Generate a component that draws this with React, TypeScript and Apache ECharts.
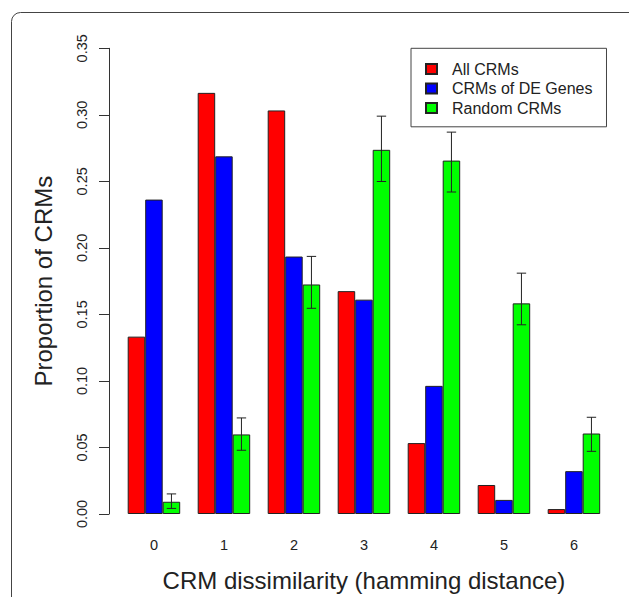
import React, { useEffect, useRef } from "react";
import * as echarts from "echarts";

const categories = ["0", "1", "2", "3", "4", "5", "6"];
const allCRMs = [0.1333, 0.3165, 0.3033, 0.1675, 0.0533, 0.0218, 0.0037];
const deGeneCRMs = [0.2363, 0.2688, 0.1935, 0.1611, 0.0963, 0.0106, 0.0322];
const randomCRMs = [0.0092, 0.0598, 0.1725, 0.2737, 0.2656, 0.1583, 0.0605];
const randomLow = [0.0042, 0.0479, 0.1546, 0.2499, 0.242, 0.1422, 0.0471];
const randomHigh = [0.0151, 0.0722, 0.1936, 0.299, 0.287, 0.181, 0.0727];
const seriesNames = ["All CRMs", "CRMs of DE Genes", "Random CRMs"];
const yTicks = { min: 0, max: 0.35, interval: 0.05 };

const FONT = "'Liberation Sans', Arial, Helvetica, sans-serif";

export default function App() {
  const ref = useRef<HTMLDivElement>(null);
  useEffect(() => {
    if (!ref.current) return;
    const chart = echarts.init(ref.current, undefined, { renderer: "svg" });
    const errData = categories.map((_, i) => [i, randomLow[i], randomHigh[i]]);
    const barStyle = (c: string) => ({ color: c, borderColor: "#222", borderWidth: 1 });
    chart.setOption({
      animation: false,
      backgroundColor: "#fff",
      textStyle: { fontFamily: FONT },
      grid: { left: 118.95, top: 48.3, width: 490, height: 470, containLabel: false },
      legend: {
        orient: "vertical",
        left: 411,
        top: 48.3,
        width: 192,
        padding: [11, 14, 9, 14],
        itemGap: 0,
        itemWidth: 11,
        itemHeight: 10,
        icon: "rect",
        borderColor: "#444",
        borderWidth: 1,
        borderRadius: 0,
        data: seriesNames,
        textStyle: {
          fontFamily: FONT,
          fontSize: 16,
          color: "#222",
          lineHeight: 19.5,
          padding: [0, 0, 0, 10],
        },
      },
      xAxis: {
        type: "category",
        data: categories,
        axisLine: { show: false },
        axisTick: { show: false },
        axisLabel: { margin: 23, fontSize: 14.5, color: "#222", fontFamily: FONT },
        name: "CRM dissimilarity (hamming distance)",
        nameLocation: "middle",
        nameGap: 54,
        nameTextStyle: { fontSize: 24, color: "#222", fontFamily: FONT },
      },
      yAxis: {
        type: "value",
        min: yTicks.min,
        max: yTicks.max,
        interval: yTicks.interval,
        offset: 9.95,
        splitLine: { show: false },
        axisLine: { show: true, lineStyle: { color: "#333", width: 1 } },
        axisTick: { show: true, length: 10, lineStyle: { color: "#333", width: 1 } },
        axisLabel: {
          rotate: 90,
          margin: 20,
          fontSize: 14.5,
          color: "#222",
          fontFamily: FONT,
          formatter: (v: number) => v.toFixed(2),
        },
        name: "Proportion of CRMs",
        nameLocation: "middle",
        nameRotate: 90,
        nameGap: 54,
        nameTextStyle: { fontSize: 24, color: "#222", fontFamily: FONT },
      },
      graphic: [
        {
          type: "rect",
          shape: { x: 11.5, y: 12.5, width: 700, height: 700, r: 9 },
          style: { fill: "none", stroke: "#444", lineWidth: 1 },
          silent: true,
          z: 100,
        },
      ],
      series: [
        { name: seriesNames[0], type: "bar", data: allCRMs, barWidth: 17.5, barGap: "0%", itemStyle: barStyle("#ff0000") },
        { name: seriesNames[1], type: "bar", data: deGeneCRMs, barWidth: 17.5, barGap: "0%", itemStyle: barStyle("#0000ff") },
        { name: seriesNames[2], type: "bar", data: randomCRMs, barWidth: 17.5, barGap: "0%", itemStyle: barStyle("#00ff00") },
        {
          type: "custom",
          name: "err",
          data: errData,
          z: 10,
          renderItem: (params: any, api: any) => {
            const idx = api.value(0);
            const lo = api.coord([idx, api.value(1)]);
            const hi = api.coord([idx, api.value(2)]);
            const band = api.size([1, 0])[0];
            const x = lo[0] + band * 0.25;
            const cap = 4.7;
            const st = { stroke: "#222", lineWidth: 1 };
            return {
              type: "group",
              children: [
                { type: "line", shape: { x1: x, y1: lo[1], x2: x, y2: hi[1] }, style: st },
                { type: "line", shape: { x1: x - cap, y1: lo[1], x2: x + cap, y2: lo[1] }, style: st },
                { type: "line", shape: { x1: x - cap, y1: hi[1], x2: x + cap, y2: hi[1] }, style: st },
              ],
            };
          },
        },
      ],
    });
    return () => chart.dispose();
  }, []);
  return (
    <div
      ref={ref}
      style={{ position: "fixed", left: 0, top: 0, width: 629, height: 597, background: "#fff" }}
    />
  );
}
